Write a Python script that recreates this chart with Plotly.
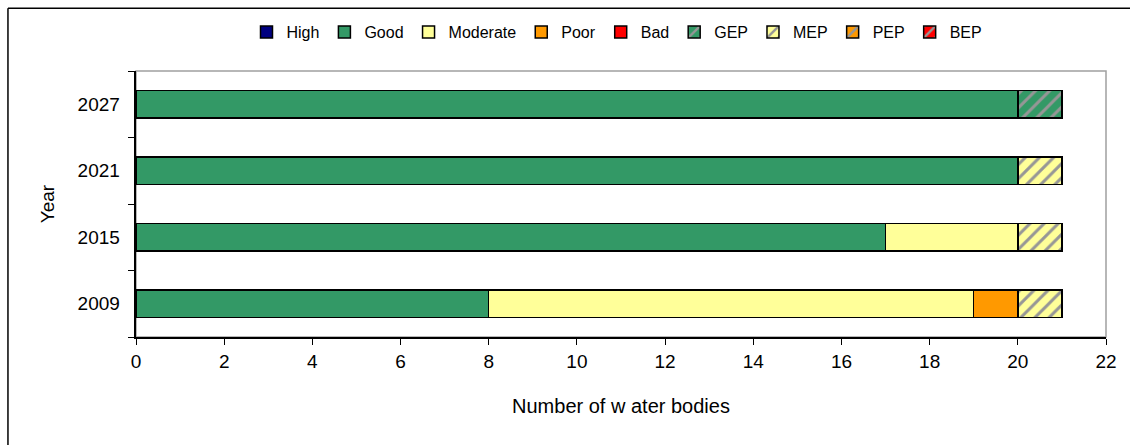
import plotly.graph_objects as go

years = ["2009", "2015", "2021", "2027"]
series_names = ["High", "Good", "Moderate", "Poor", "Bad", "GEP", "MEP", "PEP", "BEP"]
high = [None, None, None, None]
good = [8, 17, 20, 20]
moderate = [11, 3, None, None]
poor = [1, None, None, None]
bad = [None, None, None, None]
gep = [None, None, None, 1]
mep = [1, 1, 1, None]
pep = [None, None, None, None]
bep = [None, None, None, None]
values = [high, good, moderate, poor, bad, gep, mep, pep, bep]
colors = ["#000080", "#339966", "#FFFF99", "#FF9900", "#FF0000",
          "#339966", "#FFFF99", "#FF9900", "#FF0000"]
hatched = [False, False, False, False, False, True, True, True, True]
x_ticks = list(range(0, 23, 2))

fig = go.Figure()
for name, vals, col, h in zip(series_names, values, colors, hatched):
    marker = dict(color=col, line=dict(color="black", width=1.5))
    if h:
        marker["pattern"] = dict(shape="/", fgcolor="#969696", bgcolor=col,
                                 size=10, solidity=0.3, fillmode="replace")
    fig.add_trace(go.Bar(name=name, y=years, x=vals, orientation="h",
                         marker=marker, showlegend=True))

font = "Liberation Sans, Arial, sans-serif"
fs = 19
fig.update_layout(
    barmode="stack",
    bargap=0.59,
    width=1130, height=445,
    margin=dict(l=136, r=24, t=71, b=108, autoexpand=False),
    paper_bgcolor="white", plot_bgcolor="white",
    font=dict(family=font, size=fs, color="black"),
    legend=dict(orientation="h", x=617 / 1130, xref="container", xanchor="center",
                y=1 - 32 / 445, yref="container", yanchor="middle",
                font=dict(size=16), traceorder="normal", itemwidth=30,
                bgcolor="rgba(0,0,0,0)"),
    xaxis=dict(range=[0, 22], tickvals=x_ticks, showgrid=False, zeroline=False,
               showline=True, linecolor="black", linewidth=1.5,
               ticks="outside", ticklen=6, tickcolor="black", automargin=False,
               tickfont=dict(size=fs),
               title=dict(text="Number of w ater bodies", font=dict(size=20), standoff=28)),
    yaxis=dict(type="category", categoryorder="array", categoryarray=years,
               showgrid=False, zeroline=False, showline=True, linecolor="black", linewidth=1.5,
               ticks="outside", ticklen=6, tickcolor="black", tickson="boundaries",
               automargin=False,
               tickfont=dict(size=fs), ticksuffix="  ",
               title=dict(text="Year", font=dict(size=fs), standoff=18)),
    shapes=[
        dict(type="rect", xref="paper", yref="paper", x0=0, x1=1, y0=0, y1=1,
             line=dict(color="#A0A0A0", width=1.5), layer="below"),
        dict(type="line", xref="paper", yref="paper", x0=-0.132, x1=1.1, y0=1.236, y1=1.236,
             line=dict(color="black", width=1.5)),
        dict(type="line", xref="paper", yref="paper", x0=-0.132, x1=-0.132, y0=-0.5, y1=1.236,
             line=dict(color="black", width=1.5)),
    ],
)

fig.write_html("out.html", config={"displayModeBar": False},
               post_script="document.body.style.margin='0';")
